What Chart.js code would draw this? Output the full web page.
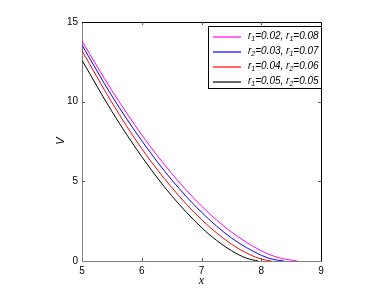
<!DOCTYPE html>
<html>
<head>
<meta charset="utf-8">
<script src="https://cdn.jsdelivr.net/npm/chart.js@4"></script>
<style>
  html, body { margin: 0; padding: 0; background: #fff; }
  #wrap { width: 390px; height: 294px; }
</style>
</head>
<body>
<div id="wrap"><canvas id="myChart" width="390" height="294"></canvas></div>
<script>
// values
var magentaX = [5, 5.5, 6, 6.5, 7, 7.5, 8, 8.3, 8.6]
var magentaV = [13.8, 10.7, 7.92, 5.5, 3.45, 1.82, 0.64, 0.2, 0]
var blueX = [5, 5.5, 6, 6.5, 7, 7.5, 8, 8.2, 8.38]
var blueV = [13.55, 10.36, 7.55, 5.1, 3.06, 1.45, 0.36, 0.1, 0]
var redX = [5, 5.5, 6, 6.5, 7, 7.5, 7.8, 8, 8.17]
var redV = [13.2, 9.95, 7.05, 4.62, 2.6, 1.06, 0.42, 0.12, 0]
var blackX = [5, 5.5, 6, 6.5, 7, 7.25, 7.5, 7.75, 7.95]
var blackV = [12.6, 9.39, 6.55, 4.1, 2.1, 1.3, 0.65, 0.18, 0]

var legendLabels = ['r_1=0.02, r_1=0.08', 'r_2=0.03, r_1=0.07', 'r_1=0.04, r_2=0.06', 'r_1=0.05, r_2=0.05']
var lineColors = ['#ff00ff', '#0000ff', '#ff0000', '#000000']
var xTicks = [5, 6, 7, 8, 9]
var yTicks = [0, 5, 10, 15]

function pts(xs, vs) {
    let out = []
    for (let i = 0; i < xs.length; i++) { out.push({x: xs[i], y: vs[i]}) }
    return out
}

var series = [pts(magentaX, magentaV), pts(blueX, blueV), pts(redX, redV), pts(blackX, blackV)]
var datasets = []
for (let i = 0; i < series.length; i++) {
    datasets.push({
        label: legendLabels[i],
        data: series[i],
        borderColor: lineColors[i],
        borderWidth: 1,
        pointRadius: 0,
        fill: false,
        cubicInterpolationMode: 'monotone'
    })
}

// draws "r_1=..." with small subscripts
function subText(ctx, str, x, y, size) {
    let parts = str.split('_')
    ctx.font = 'italic ' + size + 'px "Liberation Sans"'
    ctx.fillText(parts[0], x, y)
    x += ctx.measureText(parts[0]).width
    for (let k = 1; k < parts.length; k++) {
        let sub = parts[k].charAt(0)
        let rest = parts[k].slice(1)
        ctx.font = 'italic ' + (size - 3) + 'px "Liberation Sans"'
        ctx.fillText(sub, x, y + 3)
        x += ctx.measureText(sub).width
        ctx.font = 'italic ' + size + 'px "Liberation Sans"'
        ctx.fillText(rest, x, y)
        x += ctx.measureText(rest).width
    }
}

var decor = {
    id: 'decor',
    afterDraw: chart => {
        let ctx = chart.ctx
        let a = chart.chartArea
        let xs = chart.scales.x
        let ys = chart.scales.y
        ctx.save()
        // top and right frame
        ctx.strokeStyle = '#000'
        ctx.lineWidth = 1
        ctx.beginPath()
        ctx.moveTo(a.left, a.top + 0.5)
        ctx.lineTo(a.right + 0.5, a.top + 0.5)
        ctx.lineTo(a.right + 0.5, a.bottom)
        ctx.stroke()
        // inward ticks
        ctx.beginPath()
        for (let i = 1; i < xTicks.length - 1; i++) {
            let px = Math.round(xs.getPixelForValue(xTicks[i])) + 0.5
            ctx.moveTo(px, a.bottom); ctx.lineTo(px, a.bottom - 3)
            ctx.moveTo(px, a.top); ctx.lineTo(px, a.top + 3)
        }
        for (let i = 1; i < yTicks.length - 1; i++) {
            let py = Math.round(ys.getPixelForValue(yTicks[i])) + 0.5
            ctx.moveTo(a.left, py); ctx.lineTo(a.left + 3, py)
            ctx.moveTo(a.right, py); ctx.lineTo(a.right - 3, py)
        }
        ctx.strokeStyle = '#555'
        ctx.stroke()
        // axis titles
        ctx.fillStyle = '#000'
        ctx.font = 'italic 12px "Liberation Serif"'
        ctx.textAlign = 'center'
        ctx.textBaseline = 'middle'
        ctx.fillText('x', (a.left + a.right) / 2, 281)
        ctx.translate(61, 141)
        ctx.rotate(-Math.PI / 2)
        ctx.font = 'italic 11px "Liberation Sans"'
        ctx.fillText('V', 0, 0)
        ctx.restore()
        // legend
        ctx.save()
        let lx = 208, ly = 26, lw = 113, lh = 62
        ctx.fillStyle = '#fff'
        ctx.fillRect(lx, ly, lw, lh)
        ctx.lineWidth = 1
        ctx.strokeStyle = '#000'
        ctx.strokeRect(lx + 0.5, ly + 0.5, lw, lh)
        ctx.textAlign = 'left'
        ctx.textBaseline = 'middle'
        for (let i = 0; i < legendLabels.length; i++) {
            let yy = ly + 11 + i * 15
            ctx.beginPath()
            ctx.moveTo(lx + 5, yy)
            ctx.lineTo(lx + 33, yy)
            ctx.strokeStyle = chart.data.datasets[i].borderColor
            ctx.lineWidth = 1.2
            ctx.stroke()
            ctx.fillStyle = '#000'
            subText(ctx, legendLabels[i], lx + 40, yy - 1, 10)
        }
        ctx.restore()
    }
}

new Chart(document.getElementById('myChart'), {
    type: 'line',
    data: { datasets: datasets },
    options: {
        responsive: false,
        animation: false,
        layout: { padding: { left: 0, right: 69, top: 22, bottom: 0 } },
        scales: {
            x: {
                type: 'linear',
                min: 5,
                max: 9,
                afterFit: s => { s.height = 33 },
                afterBuildTicks: s => { s.ticks = xTicks.map(v => ({value: v})) },
                grid: { display: false, drawTicks: false },
                border: { display: true, color: '#808080', width: 1 },
                ticks: {
                    padding: 4,
                    color: '#000',
                    maxRotation: 0,
                    font: { family: 'Liberation Sans', size: 10 }
                }
            },
            y: {
                min: 0,
                max: 15,
                afterFit: s => { s.width = 82 },
                afterBuildTicks: s => { s.ticks = yTicks.map(v => ({value: v})) },
                grid: { display: false, drawTicks: false },
                border: { display: true, color: '#808080', width: 1 },
                ticks: {
                    padding: 4,
                    color: '#000',
                    font: { family: 'Liberation Sans', size: 10 }
                }
            }
        },
        plugins: {
            legend: { display: false },
            tooltip: { enabled: false }
        }
    },
    plugins: [decor]
});
</script>
</body>
</html>
